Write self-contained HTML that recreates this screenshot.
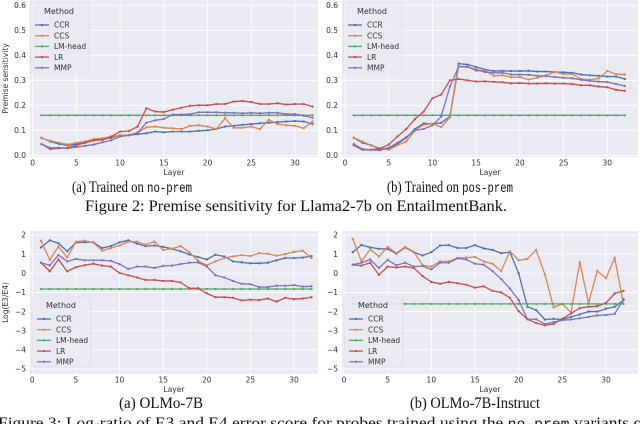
<!DOCTYPE html>
<html><head><meta charset="utf-8">
<style>
body{margin:0;background:#fff;width:640px;height:424px;overflow:hidden;}
svg{display:block}
.tk{font-family:"DejaVu Sans","Liberation Sans",sans-serif;font-size:7.5px;fill:#333}
.cap{font-family:"Liberation Serif",serif;font-size:16px;fill:#111}
.mono{font-family:"Liberation Mono",monospace;font-size:13.5px}
</style></head>
<body>
<svg id="fig" width="640" height="424" viewBox="0 0 640 424" xmlns="http://www.w3.org/2000/svg">
<text class="cap" x="72" y="192" textLength="120" lengthAdjust="spacingAndGlyphs">(a) Trained on <tspan class="mono">no-prem</tspan></text>
<text class="cap" x="387" y="192" textLength="126" lengthAdjust="spacingAndGlyphs">(b) Trained on <tspan class="mono">pos-prem</tspan></text>
<text class="cap" x="85" y="211" textLength="422" lengthAdjust="spacingAndGlyphs">Figure 2: Premise sensitivity for Llama2-7b on EntailmentBank.</text>
<text class="cap" x="119" y="408" textLength="84" lengthAdjust="spacingAndGlyphs">(a) OLMo-7B</text>
<text class="cap" x="410" y="408" textLength="130" lengthAdjust="spacingAndGlyphs">(b) OLMo-7B-Instruct</text>
<text class="cap" x="-2" y="428" textLength="650" lengthAdjust="spacingAndGlyphs">Figure 3: Log-ratio of E3 and E4 error score for probes trained using the <tspan class="mono">no-prem</tspan> variants of</text>
</svg>
<script>
const layers = Array.from({length:32},(_, i)=>i+1);
const methods = ["CCR","CCS","LM-head","LR","MMP"];
const colors = ["#4c72b0","#dd8452","#55a868","#c44e52","#8172b3"];
// Panel A (Premise sensitivity, no-prem)
const aCCR=[0.07,0.055,0.045,0.04,0.045,0.05,0.06,0.065,0.07,0.08,0.08,0.085,0.088,0.095,0.092,0.095,0.095,0.095,0.098,0.1,0.105,0.115,0.118,0.122,0.125,0.128,0.13,0.133,0.135,0.137,0.135,0.125];
const aCCS=[0.068,0.058,0.05,0.043,0.05,0.055,0.065,0.068,0.075,0.08,0.08,0.09,0.112,0.115,0.11,0.108,0.105,0.118,0.12,0.115,0.105,0.148,0.11,0.11,0.115,0.105,0.142,0.125,0.12,0.118,0.108,0.135];
const aLM=Array(32).fill(0.16);
const aLR=[0.045,0.025,0.028,0.03,0.04,0.05,0.06,0.062,0.075,0.095,0.097,0.115,0.188,0.175,0.173,0.182,0.19,0.198,0.2,0.2,0.205,0.205,0.215,0.217,0.213,0.205,0.205,0.208,0.203,0.205,0.205,0.195];
const aMMP=[0.045,0.03,0.03,0.028,0.033,0.038,0.043,0.052,0.06,0.075,0.08,0.09,0.13,0.14,0.145,0.163,0.163,0.165,0.172,0.172,0.172,0.17,0.17,0.168,0.17,0.168,0.17,0.17,0.165,0.165,0.158,0.15];
// Panel B (pos-prem)
const bCCR=[0.07,0.05,0.04,0.025,0.028,0.045,0.07,0.105,0.128,0.125,0.13,0.155,0.367,0.363,0.353,0.343,0.337,0.338,0.337,0.337,0.338,0.335,0.335,0.333,0.332,0.33,0.323,0.32,0.318,0.315,0.315,0.305];
const bCCS=[0.07,0.055,0.04,0.028,0.022,0.04,0.055,0.1,0.122,0.127,0.113,0.152,0.355,0.355,0.338,0.34,0.318,0.32,0.312,0.313,0.303,0.31,0.32,0.333,0.325,0.325,0.305,0.302,0.307,0.337,0.325,0.323];
const bLM=Array(32).fill(0.16);
const bLR=[0.04,0.022,0.022,0.027,0.043,0.075,0.105,0.145,0.175,0.228,0.243,0.3,0.305,0.3,0.295,0.296,0.294,0.292,0.288,0.289,0.287,0.287,0.288,0.287,0.287,0.285,0.28,0.28,0.275,0.272,0.262,0.258];
const bMMP=[0.045,0.025,0.022,0.02,0.03,0.05,0.072,0.1,0.105,0.12,0.155,0.275,0.355,0.353,0.343,0.333,0.33,0.33,0.323,0.323,0.322,0.318,0.317,0.313,0.31,0.308,0.302,0.298,0.295,0.293,0.285,0.277];
// Panel C (OLMo-7B log ratio)
const cCCR=[1.35,1.72,1.57,1.15,1.6,1.62,1.62,1.32,1.42,1.62,1.72,1.55,1.42,1.45,1.38,1.28,1.15,0.98,0.85,0.72,0.97,0.88,0.62,0.57,0.52,0.52,0.55,0.68,0.8,0.8,0.82,0.9];
const cCCS=[1.7,0.7,1.4,0.82,1.65,1.7,1.6,1.18,1.32,1.45,1.65,1.65,1.5,1.65,1.22,1.28,1.42,1.1,0.65,0.42,0.62,0.8,0.88,0.95,0.9,1.05,1.02,0.92,1.0,1.12,1.18,0.8];
const cLM=Array(32).fill(-0.82);
const cLR=[0.55,0.1,0.72,0.1,0.32,0.42,0.5,0.4,0.35,0.02,-0.1,-0.22,-0.35,-0.35,-0.4,-0.4,-0.48,-0.78,-0.78,-1.05,-1.25,-1.25,-1.28,-1.42,-1.38,-1.4,-1.32,-1.48,-1.28,-1.35,-1.32,-1.25];
const cMMP=[0.55,0.42,0.95,0.62,0.75,0.68,0.68,0.68,0.65,0.48,0.22,0.35,0.35,0.28,0.38,0.4,0.48,0.55,0.57,0.35,-0.1,-0.22,-0.4,-0.55,-0.57,-0.72,-0.72,-0.65,-0.65,-0.62,-0.7,-0.68];
// Panel D (OLMo-7B-Instruct)
const dCCR=[1.1,1.48,1.35,1.28,1.27,1.02,1.35,1.1,0.93,1.1,1.45,1.47,1.32,1.32,1.47,1.3,1.22,1.05,1.1,0,-1.75,-1.92,-2.42,-2.38,-2.42,-2.28,-2.15,-2.0,-2.0,-1.85,-1.75,-1.4];
const dCCS=[1.8,0.62,1.25,0.88,1.38,1.05,1.38,1.12,0.42,0.35,0.62,0.62,0.8,0.82,0.85,0.62,0.5,0.12,1.15,0.68,0.75,1.22,-0.05,-1.78,-1.6,-2.05,0.58,-1.55,0.12,-0.25,0.8,-1.6];
const dLM=Array(32).fill(-1.6);
const dLR=[0.45,0.4,0.55,-0.08,0.35,0.3,0.35,0.28,-0.15,-0.45,-0.55,-0.45,-0.52,-0.6,-0.75,-0.68,-0.92,-1.0,-1.28,-1.98,-2.4,-2.6,-2.72,-2.65,-2.38,-2.1,-1.82,-1.75,-1.72,-1.55,-1.05,-0.92];
const dMMP=[0.45,0.55,0.72,0.28,0.7,0.42,0.55,0.35,0.38,0.2,0.55,0.55,0.78,0.72,0.5,0.45,0.12,-0.3,-0.8,-1.4,-2.4,-2.4,-2.65,-2.55,-2.45,-2.42,-2.35,-2.28,-2.2,-2.18,-2.12,-1.35];
const xTicks=[0,5,10,15,20,25,30];
const yTicksTop=[0,0.1,0.2,0.3,0.4,0.5,0.6];
const yTicksBot=[2,1,0,-1,-2,-3,-4,-5];

const NS="http://www.w3.org/2000/svg";
const svg=document.getElementById("fig");
function mk(tag,attrs,parent){const e=document.createElementNS(NS,tag);for(const k in attrs)e.setAttribute(k,attrs[k]);(parent||svg).appendChild(e);return e;}

function panel(p){
  const g=mk("g",{});
  
  
  const xs=v=>p.x0+v*(p.x30-p.x0)/30;
  const ys=v=>p.yA+(v-p.vA)*(p.yB-p.yA)/(p.vB-p.vA);
  const bg=mk("rect",{x:p.L,y:p.T,width:p.R-p.L,height:p.B-p.T,fill:"#eaeaf2"},g);
  
  
  xTicks.forEach(t=>{
    mk("line",{x1:xs(t),x2:xs(t),y1:p.T,y2:p.B,stroke:"#fff","stroke-width":0.8},g);
    const tx=mk("text",{x:xs(t),y:p.B+8.5,"text-anchor":"middle",class:"tk"},g);tx.textContent=t;
    
    
  });
  p.yt.forEach(t=>{
    mk("line",{x1:p.L,x2:p.R,y1:ys(t),y2:ys(t),stroke:"#fff","stroke-width":0.8},g);
    const tx=mk("text",{x:p.L-4,y:ys(t)+2.7,"text-anchor":"end",class:"tk"},g);
    tx.textContent=p.fmt?t.toFixed(1):(t<0?"\u2212"+(-t):t);
    
    
  });
  const xl=mk("text",{x:(p.L+p.R)/2,y:p.B+18,"text-anchor":"middle",class:"tk"},g);xl.textContent="Layer";
  
  
  if(p.ylabel){
    const yl=mk("text",{x:0,y:0,"text-anchor":"middle",class:"tk",transform:`translate(8,${(p.T+p.B)/2}) rotate(-90)`},g);yl.textContent=p.ylabel;
    
    
  }
  p.series.forEach((s,i)=>{
    const pts=layers.map((l,j)=>xs(l).toFixed(2)+","+ys(s[j]).toFixed(2)).join(" ");
    const pl=mk("polyline",{points:pts,fill:"none",stroke:colors[i],"stroke-width":1.3},g);
    
    
    layers.forEach((l,j)=>{
      const c=mk("circle",{cx:xs(l),cy:ys(s[j]),r:1.2,fill:colors[i]},g);
      
      
    });
  });
  const lg=mk("g",{},g);
  
  
  mk("rect",{x:p.lx,y:p.ly,width:59,height:70,rx:2,fill:"#eaeaf2","fill-opacity":0.85,stroke:"#d8d8e0","stroke-width":0.6},lg);
  const lt=mk("text",{x:p.lx+29,y:p.ly+11,"text-anchor":"middle",class:"tk",style:"font-size:8px"},lg);lt.textContent="Method";
  
  
  methods.forEach((m,i)=>{
    const yy=p.ly+22+i*10.7;
    mk("line",{x1:p.lx+5,x2:p.lx+19,y1:yy,y2:yy,stroke:colors[i],"stroke-width":1.3},lg);
    mk("circle",{cx:p.lx+12,cy:yy,r:1.2,fill:colors[i]},lg);
    const t=mk("text",{x:p.lx+24,y:yy+2.7,class:"tk",style:"font-size:7.5px"},lg);t.textContent=m;
    
    
  });
}
panel({name:"chart-a-no-prem",L:30,R:318,T:0,B:157,x0:32.7,x30:295,yA:155.3,vA:0,yB:130.3,vB:0.1,yt:yTicksTop,fmt:true,ylabel:"Premise sensitivity",series:[aCCR,aCCS,aLM,aLR,aMMP],lx:30,ly:3});
panel({name:"chart-b-pos-prem",L:342,R:638,T:0,B:157,x0:345,x30:607.3,yA:155.3,vA:0,yB:130.3,vB:0.1,yt:yTicksTop,fmt:true,ylabel:null,series:[bCCR,bCCS,bLM,bLR,bMMP],lx:343,ly:3});
panel({name:"chart-c-olmo",L:30,R:318,T:231,B:374,x0:32.3,x30:294,yA:235,vA:2,yB:369,vB:-5,yt:yTicksBot,fmt:false,ylabel:"Log(E3/E4)",series:[cCCR,cCCS,cLM,cLR,cMMP],lx:32,ly:297});
panel({name:"chart-d-olmo-instruct",L:342,R:638,T:231,B:374,x0:344,x30:606,yA:235,vA:2,yB:369,vB:-5,yt:yTicksBot,fmt:false,ylabel:null,series:[dCCR,dCCS,dLM,dLR,dMMP],lx:344,ly:297});
</script>
</body></html>
